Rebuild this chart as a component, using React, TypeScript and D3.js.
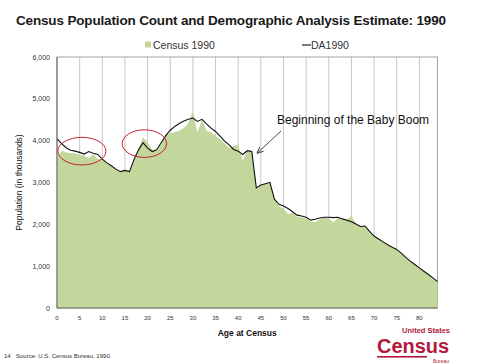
import * as d3 from "d3";

const ages = d3.range(0, 85);

const census1990 = [
  3580, 3760, 3720, 3700, 3700, 3660, 3640, 3580, 3680, 3560,
  3560, 3460, 3400, 3320, 3250, 3290, 3250, 3500, 3800, 4080,
  3950, 3780, 3760, 3900, 4150, 4180, 4200, 4240, 4300, 4420,
  4700, 4200, 4500, 4230, 4200, 4120, 4040, 3940, 3820, 3880,
  3900, 3520, 3780, 3750, 2830, 2920, 2970, 2960, 2580, 2430,
  2380, 2250, 2280, 2180, 2170, 2140, 2070, 2050, 2120, 2160,
  2140, 2050, 2150, 2120, 2120, 2200, 2020, 1950, 1950, 1830,
  1720, 1650, 1580, 1510, 1450, 1400, 1310, 1210, 1120, 1040,
  960, 880, 800, 720, 630,
];

const da1990 = [
  4050, 3930, 3830, 3770, 3750, 3720, 3680, 3740, 3700, 3670,
  3560, 3470, 3400, 3320, 3260, 3290, 3260, 3550, 3780, 3950,
  3820, 3740, 3780, 3950, 4120, 4250, 4340, 4410, 4470, 4510,
  4540, 4460, 4510, 4400, 4300, 4220, 4110, 3990, 3900, 3790,
  3750, 3670, 3760, 3740, 2870, 2940, 2970, 3000, 2600, 2480,
  2440, 2380, 2300, 2220, 2200, 2170, 2100, 2120, 2150, 2170,
  2170, 2160, 2170, 2130, 2100, 2060, 2010, 1950, 1960, 1830,
  1720, 1650, 1580, 1510, 1450, 1400, 1310, 1210, 1120, 1040,
  960, 880, 800, 720, 630,
];

const yTicks = [0, 1000, 2000, 3000, 4000, 5000, 6000];
const xTicks = d3.range(0, 81, 5);

// circled areas, in data units (age, population)
const circles = [
  { age: 5.5, pop: 3750, rAge: 5.3, rPop: 330 },
  { age: 19.3, pop: 3930, rAge: 4.9, rPop: 330 },
];

const font = "'Liberation Sans', Arial, sans-serif";

export default function App() {
  const width = 487;
  const height = 363;
  const left = 57;
  const right = 437.5;
  const top = 57;
  const bottom = 308;

  const x = d3.scaleLinear().domain([0, 84]).range([left, right]);
  const y = d3.scaleLinear().domain([0, 6000]).range([bottom, top]);

  const area = d3
    .area<number>()
    .x((_, i) => x(ages[i]))
    .y0(y(0))
    .y1((d) => y(d));
  const line = d3
    .line<number>()
    .x((_, i) => x(ages[i]))
    .y((d) => y(d));

  const pxPerAge = x(1) - x(0);
  const pxPerPop = y(0) - y(1);

  return (
    <svg
      width={width}
      height={height}
      style={{ position: "absolute", left: 0, top: 0, background: "#fff" }}
      fontFamily={font}
    >
      <defs>
        <marker id="arrow" viewBox="0 0 10 10" refX="9" refY="5" markerWidth="7" markerHeight="7" orient="auto">
          <path d="M0,1 L10,5 L0,9" fill="none" stroke="#444" strokeWidth="1.4" />
        </marker>
      </defs>

      <text x={16} y={25} fontSize={13.5} fontWeight="bold" fill="#1a1a1a" textLength={430} lengthAdjust="spacing">
        Census Population Count and Demographic Analysis Estimate: 1990
      </text>

      {/* legend */}
      <rect x={145} y={41.5} width={6} height={6} fill="#c3d69b" />
      <text x={153} y={48.5} fontSize={10.5} fill="#333">Census 1990</text>
      <line x1={302} x2={311} y1={45} y2={45} stroke="#222" strokeWidth={1.2} />
      <text x={311} y={48.5} fontSize={10.5} fill="#333">DA1990</text>

      {/* grid and frame */}
      {xTicks.slice(1).map((t) => (
        <line key={t} x1={x(t)} x2={x(t)} y1={top} y2={bottom} stroke="#c8c8c8" strokeWidth={1} />
      ))}
      <rect x={left} y={top} width={right - left} height={bottom - top} fill="none" stroke="#a6a6a6" strokeWidth={1} />

      <path d={area(census1990) ?? ""} fill="#c3d69b" />
      <path d={line(da1990) ?? ""} fill="none" stroke="#111" strokeWidth={1.1} />

      <line x1={left} x2={left} y1={top} y2={bottom} stroke="#666" strokeWidth={1} />
      <line x1={left} x2={right} y1={bottom} y2={bottom} stroke="#666" strokeWidth={1} />

      {yTicks.map((t) => (
        <text key={t} x={50} y={y(t) + 2.5} fontSize={7} textAnchor="end" fill="#333">
          {d3.format(",")(t)}
        </text>
      ))}
      {xTicks.map((t) => (
        <text key={t} x={x(t)} y={320} fontSize={6} textAnchor="middle" fill="#333">
          {t}
        </text>
      ))}

      <text
        transform={`translate(22,${(top + bottom) / 2}) rotate(-90)`}
        fontSize={8.5}
        textAnchor="middle"
        fill="#111"
      >
        Population (in thousands)
      </text>
      <text x={(left + right) / 2} y={336} fontSize={8.5} textAnchor="middle" fill="#111" fontWeight="bold">
        Age at Census
      </text>

      {circles.map((c, i) => (
        <ellipse
          key={i}
          cx={x(c.age)}
          cy={y(c.pop)}
          rx={c.rAge * pxPerAge}
          ry={c.rPop * pxPerPop}
          fill="none"
          stroke="#c0272d"
          strokeWidth={1}
        />
      ))}

      <text x={277} y={124} fontSize={12} fill="#111">Beginning of the Baby Boom</text>
      <line x1={281} y1={131} x2={x(44.2)} y2={y(3700)} stroke="#444" strokeWidth={1} markerEnd="url(#arrow)" />

      <text x={4} y={358} fontSize={6} fill="#333">14</text>
      <text x={16} y={358} fontSize={6} fill="#333">Source: U.S. Census Bureau, 1990.</text>

      {/* Census Bureau logo */}
      <text x={450} y={333} fontSize={7.5} fontWeight="bold" textAnchor="end" fill="#b3173b">United States</text>
      <text x={449} y={353} fontSize={20} fontWeight="bold" textAnchor="end" fill="#b3173b" textLength={72} lengthAdjust="spacingAndGlyphs">
        Census
      </text>
      <rect x={377} y={356} width={50} height={1.6} fill="#b3173b" />
      <text x={449} y={362.5} fontSize={5} textAnchor="end" fill="#b3173b">Bureau</text>
    </svg>
  );
}
